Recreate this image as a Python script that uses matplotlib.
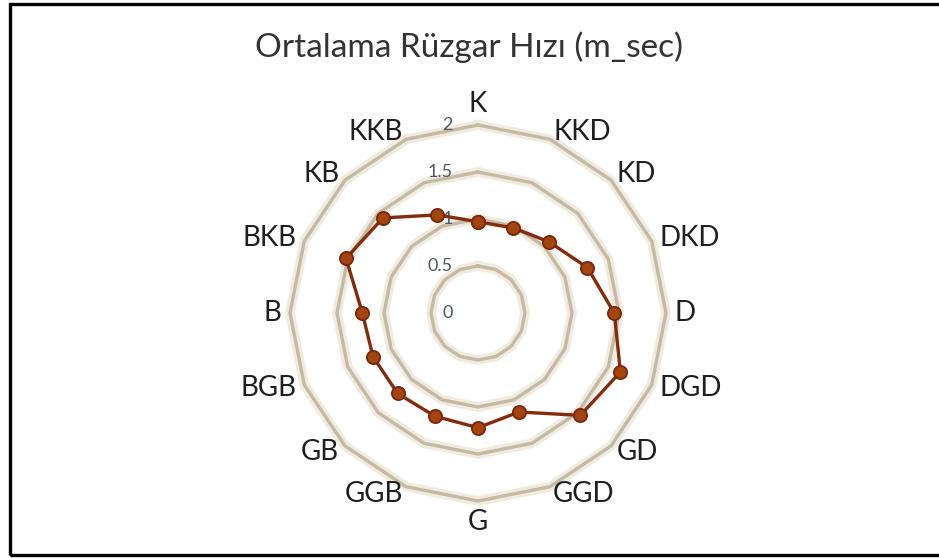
import numpy as np
import matplotlib
matplotlib.use("Agg")
import matplotlib.pyplot as plt
from matplotlib.patches import Rectangle

plt.rcParams["font.family"] = ["Lato", "DejaVu Sans"]

# ── DATA ─────────────────────────────────────────────
directions = ["K", "KKD", "KD", "DKD", "D", "DGD", "GD", "GGD",
              "G", "GGB", "GB", "BGB", "B", "BKB", "KB", "KKB"]
speeds = [0.97, 0.98, 1.07, 1.26, 1.45, 1.64, 1.54, 1.14,
          1.22, 1.19, 1.21, 1.21, 1.23, 1.52, 1.43, 1.13]
r_ticks = [0, 0.5, 1, 1.5, 2]
r_tick_labels = ["0", "0.5", "1", "1.5", "2"]
title = "Ortalama Rüzgar Hızı (m_sec)"

W, H = 939, 558
fig = plt.figure(figsize=(W / 100, H / 100), dpi=100)
fig.patch.set_facecolor("white")

# chart border (right side runs off the image)
fig.patches.append(Rectangle((9.5 / W, 3 / H), 1.0, (H - 6.5) / H,
                             transform=fig.transFigure, fill=False,
                             edgecolor="black", linewidth=2.4))

cx, cy, rad = 478, 313, 188
ax = fig.add_axes([(cx - rad) / W, (H - cy - rad) / H, 2 * rad / W, 2 * rad / H],
                  projection="polar")
ax.set_theta_zero_location("N")
ax.set_theta_direction(-1)
ax.set_ylim(0, 2)
ax.grid(False)
ax.spines["polar"].set_visible(False)
ax.set_xticks([])
ax.set_yticks([])
ax.patch.set_alpha(0)

angles = np.linspace(0, 2 * np.pi, len(directions), endpoint=False)
closed = np.append(angles, angles[0])

# polygon gridlines, soft shadow + beige line
for v in r_ticks[1:]:
    ring = np.full(len(closed), v)
    ax.plot(closed, ring, color="#F1EADF", linewidth=7, clip_on=False, zorder=1)
    ax.plot(closed, ring, color="#C3B9A4", linewidth=2.4, clip_on=False, zorder=2)

# radial tick labels, left of the vertical axis
for v, lab in zip(r_ticks, r_tick_labels):
    ax.annotate(lab, xy=(0, v), xytext=(-18, 0), textcoords="offset points",
                ha="right", va="center", fontsize=13, color="#4E5868", zorder=3)

# data series
ax.plot(closed, speeds + speeds[:1], color="#862A0B",
        linewidth=2.4, marker="o", markersize=9.5, markerfacecolor="#A4440F",
        markeredgecolor="#7A260A", markeredgewidth=1.3, zorder=5, clip_on=False)

# category labels
off = 6
for a, lab in zip(angles, directions):
    s, c = np.sin(a), np.cos(a)
    if abs(s) < 1e-6:
        ha = "center"
        va = "bottom" if c > 0 else "top"
    else:
        ha = "left" if s > 0 else "right"
        va = "center"
    ax.annotate(lab, xy=(a, 2), xytext=(off * s, off * c), textcoords="offset points",
                ha=ha, va=va, fontsize=20, color="#1F1F1F", annotation_clip=False)

fig.text(469 / W, 1 - 47 / H, title, ha="center", va="center",
         fontsize=24, color="#333333")

plt.savefig("out.png", dpi=100)
